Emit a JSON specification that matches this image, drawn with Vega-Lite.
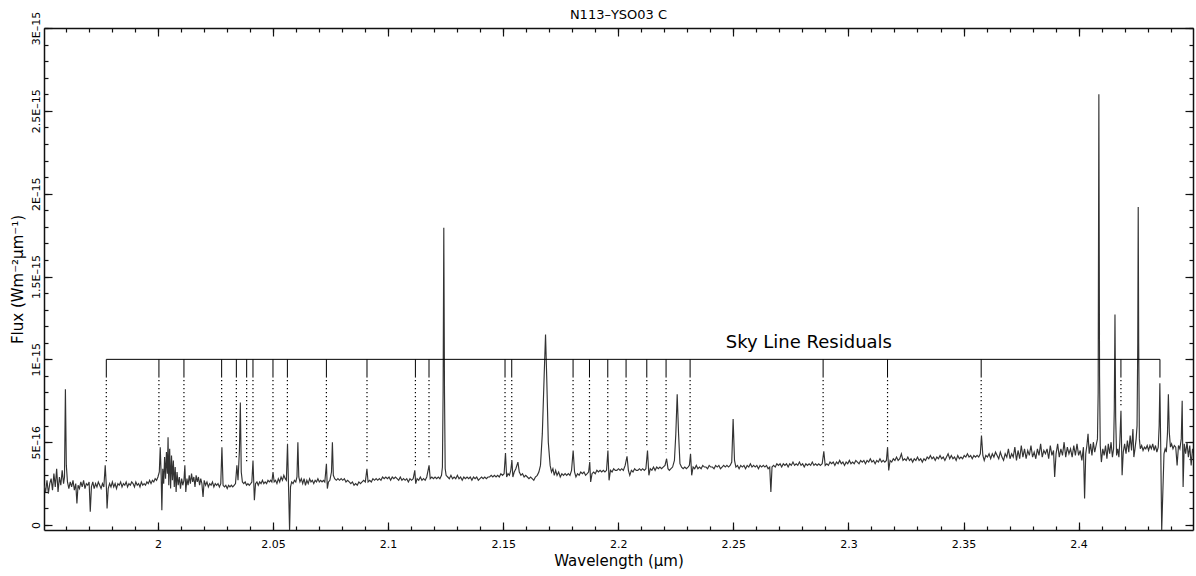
{
"$schema": "https://vega.github.io/schema/vega-lite/v6.json",
"width": 1149,
"height": 502,
"autosize": "none",
"padding": {"left": 44, "top": 28, "right": 3, "bottom": 46},
"config": {
  "view": {"stroke": null},
  "font": "DejaVu Sans",
  "axis": {"grid": false, "domainColor": "#111", "tickColor": "#111", "labelColor": "#000", "titleColor": "#000", "labelFont": "DejaVu Sans", "titleFont": "DejaVu Sans", "labelFlush": false, "labelOverlap": false, "labelBound": false, "titleFontWeight": "normal", "domainWidth": 1.5, "tickWidth": 1.2}
},
"title": {"text": "N113–YSO03 C", "fontSize": 13, "fontWeight": "normal", "frame": "group", "anchor": "middle", "baseline": "alphabetic", "offset": -21, "color": "#000", "font": "DejaVu Sans"},
"datasets": {
  "spec": [
{"w":1.9505,"f":2.4e-16},{"w":1.9512,"f":2.0e-16},{"w":1.9518,"f":2.7e-16},{"w":1.9524,"f":1.9e-16},{"w":1.9530,"f":2.5e-16},{"w":1.9536,"f":2.8e-16},{"w":1.9542,"f":2.1e-16},{"w":1.9548,"f":3.1e-16},{"w":1.9554,"f":2.3e-16},{"w":1.9560,"f":3.4e-16},{"w":1.9566,"f":2.0e-16},{"w":1.9572,"f":2.9e-16},{"w":1.9578,"f":2.4e-16},{"w":1.9584,"f":3.3e-16},{"w":1.9590,"f":2.5e-16},{"w":1.9594,"f":2.9e-16},{"w":1.9598,"f":8.2e-16},{"w":1.9602,"f":3.6e-16},{"w":1.9607,"f":2.6e-16},{"w":1.9613,"f":2.2e-16},{"w":1.9619,"f":2.6e-16},{"w":1.9625,"f":2.3e-16},{"w":1.9631,"f":2.7e-16},{"w":1.9637,"f":2.1e-16},{"w":1.9643,"f":2.5e-16},{"w":1.9648,"f":1.3e-16},{"w":1.9653,"f":2.4e-16},{"w":1.9659,"f":2.2e-16},{"w":1.9665,"f":2.6e-16},{"w":1.9671,"f":2.3e-16},{"w":1.9677,"f":2.7e-16},{"w":1.9683,"f":2.2e-16},{"w":1.9689,"f":2.5e-16},{"w":1.9695,"f":2.4e-16},{"w":1.9701,"f":2.6e-16},{"w":1.9706,"f":0.8e-16},{"w":1.9711,"f":2.3e-16},{"w":1.9717,"f":2.6e-16},{"w":1.9723,"f":2.2e-16},{"w":1.9729,"f":2.5e-16},{"w":1.9735,"f":2.3e-16},{"w":1.9741,"f":2.6e-16},{"w":1.9747,"f":2.4e-16},{"w":1.9753,"f":2.2e-16},{"w":1.9759,"f":2.5e-16},{"w":1.9765,"f":2.3e-16},{"w":1.9771,"f":3.6e-16},{"w":1.9776,"f":2.3e-16},{"w":1.9779,"f":1.0e-16},{"w":1.9784,"f":2.2e-16},{"w":1.9790,"f":2.5e-16},{"w":1.9796,"f":2.3e-16},{"w":1.9802,"f":2.6e-16},{"w":1.9808,"f":2.3e-16},{"w":1.9814,"f":2.5e-16},{"w":1.9820,"f":2.2e-16},{"w":1.9826,"f":2.5e-16},{"w":1.9832,"f":2.4e-16},{"w":1.9838,"f":2.6e-16},{"w":1.9844,"f":2.3e-16},{"w":1.9850,"f":2.5e-16},{"w":1.9856,"f":2.4e-16},{"w":1.9862,"f":2.6e-16},{"w":1.9868,"f":2.3e-16},{"w":1.9874,"f":2.5e-16},{"w":1.9880,"f":2.4e-16},{"w":1.9886,"f":2.6e-16},{"w":1.9892,"f":2.5e-16},{"w":1.9898,"f":2.3e-16},{"w":1.9904,"f":2.6e-16},{"w":1.9910,"f":2.4e-16},{"w":1.9916,"f":2.5e-16},{"w":1.9922,"f":2.3e-16},{"w":1.9928,"f":2.6e-16},{"w":1.9934,"f":2.4e-16},{"w":1.9940,"f":2.5e-16},{"w":1.9946,"f":2.4e-16},{"w":1.9952,"f":2.6e-16},{"w":1.9958,"f":2.5e-16},{"w":1.9964,"f":2.7e-16},{"w":1.9970,"f":2.5e-16},{"w":1.9976,"f":2.7e-16},{"w":1.9982,"f":2.6e-16},{"w":1.9988,"f":2.8e-16},{"w":1.9994,"f":2.7e-16},{"w":2.0000,"f":2.9e-16},{"w":2.0006,"f":3.2e-16},{"w":2.0010,"f":4.7e-16},{"w":2.0014,"f":3.0e-16},{"w":2.0017,"f":0.9e-16},{"w":2.0021,"f":3.4e-16},{"w":2.0025,"f":2.5e-16},{"w":2.0029,"f":4.1e-16},{"w":2.0033,"f":2.8e-16},{"w":2.0037,"f":4.4e-16},{"w":2.0041,"f":3.1e-16},{"w":2.0044,"f":5.3e-16},{"w":2.0047,"f":2.4e-16},{"w":2.0051,"f":4.6e-16},{"w":2.0055,"f":2.2e-16},{"w":2.0059,"f":4.2e-16},{"w":2.0063,"f":2.7e-16},{"w":2.0067,"f":3.9e-16},{"w":2.0071,"f":2.3e-16},{"w":2.0075,"f":3.5e-16},{"w":2.0079,"f":2.0e-16},{"w":2.0083,"f":3.2e-16},{"w":2.0088,"f":2.4e-16},{"w":2.0093,"f":2.9e-16},{"w":2.0098,"f":2.2e-16},{"w":2.0103,"f":2.8e-16},{"w":2.0108,"f":2.4e-16},{"w":2.0113,"f":2.7e-16},{"w":2.0117,"f":3.6e-16},{"w":2.0121,"f":2.0e-16},{"w":2.0126,"f":2.8e-16},{"w":2.0131,"f":2.4e-16},{"w":2.0136,"f":3.0e-16},{"w":2.0141,"f":2.5e-16},{"w":2.0146,"f":3.1e-16},{"w":2.0151,"f":2.6e-16},{"w":2.0156,"f":2.9e-16},{"w":2.0161,"f":2.3e-16},{"w":2.0166,"f":3.0e-16},{"w":2.0171,"f":2.6e-16},{"w":2.0176,"f":2.9e-16},{"w":2.0181,"f":2.4e-16},{"w":2.0186,"f":2.8e-16},{"w":2.0191,"f":2.5e-16},{"w":2.0196,"f":1.7e-16},{"w":2.0201,"f":2.7e-16},{"w":2.0207,"f":2.4e-16},{"w":2.0213,"f":2.6e-16},{"w":2.0219,"f":2.3e-16},{"w":2.0225,"f":2.5e-16},{"w":2.0231,"f":2.4e-16},{"w":2.0237,"f":2.6e-16},{"w":2.0243,"f":2.3e-16},{"w":2.0249,"f":2.5e-16},{"w":2.0255,"f":2.4e-16},{"w":2.0261,"f":2.5e-16},{"w":2.0267,"f":2.3e-16},{"w":2.0273,"f":2.5e-16},{"w":2.0278,"f":4.7e-16},{"w":2.0283,"f":2.4e-16},{"w":2.0289,"f":2.3e-16},{"w":2.0295,"f":2.4e-16},{"w":2.0301,"f":2.2e-16},{"w":2.0307,"f":2.4e-16},{"w":2.0313,"f":2.3e-16},{"w":2.0319,"f":2.4e-16},{"w":2.0325,"f":2.3e-16},{"w":2.0331,"f":2.4e-16},{"w":2.0337,"f":2.5e-16},{"w":2.0343,"f":3.6e-16},{"w":2.0348,"f":2.7e-16},{"w":2.0354,"f":4.5e-16},{"w":2.0358,"f":7.4e-16},{"w":2.0362,"f":3.2e-16},{"w":2.0367,"f":2.6e-16},{"w":2.0373,"f":2.5e-16},{"w":2.0379,"f":2.6e-16},{"w":2.0385,"f":2.4e-16},{"w":2.0391,"f":2.5e-16},{"w":2.0397,"f":2.4e-16},{"w":2.0403,"f":2.5e-16},{"w":2.0408,"f":2.6e-16},{"w":2.0413,"f":3.9e-16},{"w":2.0419,"f":1.5e-16},{"w":2.0424,"f":2.5e-16},{"w":2.0430,"f":2.6e-16},{"w":2.0436,"f":2.4e-16},{"w":2.0442,"f":2.6e-16},{"w":2.0448,"f":2.5e-16},{"w":2.0454,"f":2.7e-16},{"w":2.0460,"f":2.5e-16},{"w":2.0466,"f":2.6e-16},{"w":2.0472,"f":2.5e-16},{"w":2.0478,"f":2.7e-16},{"w":2.0484,"f":2.6e-16},{"w":2.0490,"f":2.7e-16},{"w":2.0495,"f":2.6e-16},{"w":2.0500,"f":3.2e-16},{"w":2.0505,"f":2.6e-16},{"w":2.0511,"f":2.7e-16},{"w":2.0517,"f":2.5e-16},{"w":2.0523,"f":2.8e-16},{"w":2.0529,"f":2.6e-16},{"w":2.0535,"f":2.9e-16},{"w":2.0541,"f":2.7e-16},{"w":2.0547,"f":3.0e-16},{"w":2.0553,"f":2.8e-16},{"w":2.0558,"f":2.7e-16},{"w":2.0563,"f":4.9e-16},{"w":2.0568,"f":2.0e-16},{"w":2.0572,"f":-3.5e-17},{"w":2.0576,"f":2.3e-16},{"w":2.0581,"f":2.6e-16},{"w":2.0587,"f":2.5e-16},{"w":2.0593,"f":2.7e-16},{"w":2.0599,"f":2.6e-16},{"w":2.0604,"f":2.9e-16},{"w":2.0608,"f":5.0e-16},{"w":2.0612,"f":2.9e-16},{"w":2.0617,"f":2.6e-16},{"w":2.0623,"f":2.8e-16},{"w":2.0629,"f":2.5e-16},{"w":2.0635,"f":2.8e-16},{"w":2.0641,"f":2.4e-16},{"w":2.0647,"f":2.7e-16},{"w":2.0653,"f":2.5e-16},{"w":2.0659,"f":2.8e-16},{"w":2.0665,"f":2.6e-16},{"w":2.0671,"f":2.7e-16},{"w":2.0677,"f":2.5e-16},{"w":2.0683,"f":2.7e-16},{"w":2.0689,"f":2.6e-16},{"w":2.0695,"f":2.8e-16},{"w":2.0701,"f":2.6e-16},{"w":2.0707,"f":2.7e-16},{"w":2.0713,"f":2.6e-16},{"w":2.0719,"f":2.7e-16},{"w":2.0725,"f":2.6e-16},{"w":2.0732,"f":3.7e-16},{"w":2.0736,"f":2.2e-16},{"w":2.0741,"f":2.6e-16},{"w":2.0747,"f":2.7e-16},{"w":2.0754,"f":3.2e-16},{"w":2.0758,"f":5.0e-16},{"w":2.0762,"f":3.0e-16},{"w":2.0768,"f":2.8e-16},{"w":2.0775,"f":2.7e-16},{"w":2.0782,"f":2.8e-16},{"w":2.0789,"f":2.7e-16},{"w":2.0796,"f":2.8e-16},{"w":2.0803,"f":2.7e-16},{"w":2.0810,"f":2.8e-16},{"w":2.0817,"f":2.6e-16},{"w":2.0824,"f":2.7e-16},{"w":2.0831,"f":2.6e-16},{"w":2.0838,"f":2.5e-16},{"w":2.0845,"f":2.6e-16},{"w":2.0852,"f":2.4e-16},{"w":2.0859,"f":2.5e-16},{"w":2.0866,"f":2.4e-16},{"w":2.0873,"f":2.6e-16},{"w":2.0880,"f":2.5e-16},{"w":2.0887,"f":2.6e-16},{"w":2.0894,"f":2.7e-16},{"w":2.0901,"f":2.6e-16},{"w":2.0908,"f":3.4e-16},{"w":2.0913,"f":2.6e-16},{"w":2.0920,"f":2.7e-16},{"w":2.0927,"f":2.6e-16},{"w":2.0934,"f":2.8e-16},{"w":2.0941,"f":2.7e-16},{"w":2.0948,"f":2.8e-16},{"w":2.0955,"f":2.7e-16},{"w":2.0962,"f":2.8e-16},{"w":2.0969,"f":2.7e-16},{"w":2.0976,"f":2.9e-16},{"w":2.0983,"f":2.8e-16},{"w":2.0990,"f":2.9e-16},{"w":2.0997,"f":2.8e-16},{"w":2.1004,"f":2.9e-16},{"w":2.1011,"f":2.7e-16},{"w":2.1018,"f":2.9e-16},{"w":2.1025,"f":2.8e-16},{"w":2.1032,"f":2.9e-16},{"w":2.1039,"f":2.8e-16},{"w":2.1046,"f":2.7e-16},{"w":2.1053,"f":2.9e-16},{"w":2.1060,"f":2.7e-16},{"w":2.1067,"f":2.8e-16},{"w":2.1074,"f":2.7e-16},{"w":2.1081,"f":2.8e-16},{"w":2.1088,"f":2.6e-16},{"w":2.1095,"f":2.8e-16},{"w":2.1102,"f":2.7e-16},{"w":2.1109,"f":2.8e-16},{"w":2.1116,"f":3.3e-16},{"w":2.1120,"f":2.5e-16},{"w":2.1126,"f":2.8e-16},{"w":2.1133,"f":2.7e-16},{"w":2.1140,"f":2.9e-16},{"w":2.1147,"f":2.7e-16},{"w":2.1154,"f":2.8e-16},{"w":2.1161,"f":2.7e-16},{"w":2.1168,"f":2.9e-16},{"w":2.1178,"f":3.6e-16},{"w":2.1183,"f":2.8e-16},{"w":2.1190,"f":2.9e-16},{"w":2.1197,"f":2.8e-16},{"w":2.1204,"f":2.9e-16},{"w":2.1211,"f":2.8e-16},{"w":2.1218,"f":2.9e-16},{"w":2.1225,"f":2.8e-16},{"w":2.1232,"f":3.0e-16},{"w":2.1236,"f":3.5e-16},{"w":2.1239,"f":8.0e-16},{"w":2.1242,"f":1.795e-15},{"w":2.1245,"f":8.0e-16},{"w":2.1248,"f":3.4e-16},{"w":2.1252,"f":3.0e-16},{"w":2.1259,"f":2.9e-16},{"w":2.1266,"f":2.8e-16},{"w":2.1273,"f":3.0e-16},{"w":2.1280,"f":2.8e-16},{"w":2.1287,"f":2.9e-16},{"w":2.1294,"f":2.8e-16},{"w":2.1301,"f":3.0e-16},{"w":2.1308,"f":2.8e-16},{"w":2.1315,"f":2.9e-16},{"w":2.1322,"f":2.7e-16},{"w":2.1329,"f":2.9e-16},{"w":2.1336,"f":2.8e-16},{"w":2.1343,"f":2.9e-16},{"w":2.1350,"f":2.8e-16},{"w":2.1357,"f":2.9e-16},{"w":2.1364,"f":2.7e-16},{"w":2.1371,"f":2.9e-16},{"w":2.1378,"f":2.8e-16},{"w":2.1385,"f":2.9e-16},{"w":2.1392,"f":2.7e-16},{"w":2.1399,"f":2.8e-16},{"w":2.1406,"f":2.9e-16},{"w":2.1413,"f":2.8e-16},{"w":2.1420,"f":2.9e-16},{"w":2.1427,"f":2.8e-16},{"w":2.1434,"f":2.9e-16},{"w":2.1441,"f":2.9e-16},{"w":2.1448,"f":3.0e-16},{"w":2.1455,"f":2.9e-16},{"w":2.1462,"f":3.0e-16},{"w":2.1469,"f":2.9e-16},{"w":2.1476,"f":3.0e-16},{"w":2.1483,"f":2.9e-16},{"w":2.1490,"f":3.1e-16},{"w":2.1497,"f":3.0e-16},{"w":2.1504,"f":3.1e-16},{"w":2.1510,"f":4.35e-16},{"w":2.1515,"f":2.9e-16},{"w":2.1521,"f":3.1e-16},{"w":2.1527,"f":3.0e-16},{"w":2.1533,"f":3.3e-16},{"w":2.1538,"f":3.9e-16},{"w":2.1542,"f":2.9e-16},{"w":2.1548,"f":3.2e-16},{"w":2.1555,"f":3.4e-16},{"w":2.1564,"f":3.8e-16},{"w":2.1570,"f":3.2e-16},{"w":2.1577,"f":3.0e-16},{"w":2.1584,"f":3.1e-16},{"w":2.1591,"f":2.9e-16},{"w":2.1598,"f":3.0e-16},{"w":2.1605,"f":2.9e-16},{"w":2.1612,"f":2.8e-16},{"w":2.1619,"f":2.9e-16},{"w":2.1626,"f":2.8e-16},{"w":2.1633,"f":2.7e-16},{"w":2.1640,"f":2.9e-16},{"w":2.1648,"f":3.0e-16},{"w":2.1655,"f":3.2e-16},{"w":2.1662,"f":3.6e-16},{"w":2.1670,"f":5.5e-16},{"w":2.1678,"f":9.0e-16},{"w":2.1684,"f":1.15e-15},{"w":2.1689,"f":9.0e-16},{"w":2.1696,"f":5.0e-16},{"w":2.1704,"f":3.6e-16},{"w":2.1710,"f":3.2e-16},{"w":2.1716,"f":3.4e-16},{"w":2.1722,"f":3.0e-16},{"w":2.1728,"f":3.3e-16},{"w":2.1734,"f":3.0e-16},{"w":2.1741,"f":3.2e-16},{"w":2.1748,"f":2.9e-16},{"w":2.1755,"f":3.1e-16},{"w":2.1762,"f":3.0e-16},{"w":2.1769,"f":3.1e-16},{"w":2.1776,"f":3.0e-16},{"w":2.1783,"f":3.1e-16},{"w":2.1790,"f":3.0e-16},{"w":2.1797,"f":3.3e-16},{"w":2.1804,"f":4.5e-16},{"w":2.1810,"f":3.2e-16},{"w":2.1816,"f":2.9e-16},{"w":2.1823,"f":3.1e-16},{"w":2.1830,"f":3.0e-16},{"w":2.1837,"f":3.2e-16},{"w":2.1844,"f":3.1e-16},{"w":2.1851,"f":3.2e-16},{"w":2.1858,"f":3.0e-16},{"w":2.1865,"f":3.1e-16},{"w":2.1871,"f":3.2e-16},{"w":2.1876,"f":3.8e-16},{"w":2.1880,"f":2.6e-16},{"w":2.1886,"f":3.1e-16},{"w":2.1893,"f":3.2e-16},{"w":2.1900,"f":3.1e-16},{"w":2.1907,"f":3.3e-16},{"w":2.1914,"f":3.2e-16},{"w":2.1921,"f":3.3e-16},{"w":2.1928,"f":3.2e-16},{"w":2.1935,"f":3.3e-16},{"w":2.1942,"f":3.2e-16},{"w":2.1949,"f":3.3e-16},{"w":2.1955,"f":4.5e-16},{"w":2.1960,"f":2.7e-16},{"w":2.1966,"f":3.3e-16},{"w":2.1973,"f":3.2e-16},{"w":2.1980,"f":3.4e-16},{"w":2.1987,"f":3.3e-16},{"w":2.1994,"f":3.3e-16},{"w":2.2001,"f":3.4e-16},{"w":2.2008,"f":3.3e-16},{"w":2.2015,"f":3.4e-16},{"w":2.2022,"f":3.3e-16},{"w":2.2030,"f":3.6e-16},{"w":2.2038,"f":4.15e-16},{"w":2.2044,"f":3.3e-16},{"w":2.2050,"f":3.0e-16},{"w":2.2057,"f":3.3e-16},{"w":2.2064,"f":3.2e-16},{"w":2.2071,"f":3.4e-16},{"w":2.2078,"f":3.3e-16},{"w":2.2085,"f":3.3e-16},{"w":2.2092,"f":3.4e-16},{"w":2.2099,"f":3.3e-16},{"w":2.2106,"f":3.4e-16},{"w":2.2113,"f":3.3e-16},{"w":2.2120,"f":3.4e-16},{"w":2.2127,"f":4.5e-16},{"w":2.2133,"f":3.0e-16},{"w":2.2139,"f":3.4e-16},{"w":2.2146,"f":3.3e-16},{"w":2.2153,"f":3.5e-16},{"w":2.2160,"f":3.3e-16},{"w":2.2167,"f":3.5e-16},{"w":2.2174,"f":3.4e-16},{"w":2.2181,"f":3.5e-16},{"w":2.2188,"f":3.4e-16},{"w":2.2195,"f":3.5e-16},{"w":2.2203,"f":3.6e-16},{"w":2.2210,"f":4.0e-16},{"w":2.2216,"f":3.4e-16},{"w":2.2222,"f":3.3e-16},{"w":2.2229,"f":3.4e-16},{"w":2.2236,"f":3.5e-16},{"w":2.2244,"f":3.9e-16},{"w":2.2250,"f":5.5e-16},{"w":2.2256,"f":7.9e-16},{"w":2.2262,"f":5.5e-16},{"w":2.2268,"f":3.7e-16},{"w":2.2275,"f":3.5e-16},{"w":2.2282,"f":3.4e-16},{"w":2.2289,"f":3.5e-16},{"w":2.2296,"f":3.4e-16},{"w":2.2303,"f":3.5e-16},{"w":2.2309,"f":3.6e-16},{"w":2.2314,"f":4.3e-16},{"w":2.2319,"f":3.0e-16},{"w":2.2325,"f":3.5e-16},{"w":2.2332,"f":3.4e-16},{"w":2.2339,"f":3.6e-16},{"w":2.2346,"f":3.4e-16},{"w":2.2353,"f":3.5e-16},{"w":2.2360,"f":3.4e-16},{"w":2.2367,"f":3.6e-16},{"w":2.2374,"f":3.5e-16},{"w":2.2381,"f":3.5e-16},{"w":2.2388,"f":3.4e-16},{"w":2.2395,"f":3.6e-16},{"w":2.2402,"f":3.5e-16},{"w":2.2409,"f":3.5e-16},{"w":2.2416,"f":3.4e-16},{"w":2.2423,"f":3.6e-16},{"w":2.2430,"f":3.5e-16},{"w":2.2437,"f":3.6e-16},{"w":2.2444,"f":3.4e-16},{"w":2.2451,"f":3.5e-16},{"w":2.2458,"f":3.6e-16},{"w":2.2465,"f":3.5e-16},{"w":2.2472,"f":3.6e-16},{"w":2.2479,"f":3.5e-16},{"w":2.2486,"f":3.6e-16},{"w":2.2493,"f":3.8e-16},{"w":2.2499,"f":6.4e-16},{"w":2.2505,"f":3.9e-16},{"w":2.2511,"f":3.5e-16},{"w":2.2518,"f":3.6e-16},{"w":2.2525,"f":3.4e-16},{"w":2.2532,"f":3.6e-16},{"w":2.2539,"f":3.5e-16},{"w":2.2546,"f":3.6e-16},{"w":2.2553,"f":3.4e-16},{"w":2.2560,"f":3.6e-16},{"w":2.2567,"f":3.5e-16},{"w":2.2574,"f":3.7e-16},{"w":2.2581,"f":3.5e-16},{"w":2.2588,"f":3.6e-16},{"w":2.2595,"f":3.5e-16},{"w":2.2602,"f":3.6e-16},{"w":2.2609,"f":3.4e-16},{"w":2.2616,"f":3.6e-16},{"w":2.2623,"f":3.5e-16},{"w":2.2630,"f":3.6e-16},{"w":2.2637,"f":3.5e-16},{"w":2.2644,"f":3.6e-16},{"w":2.2651,"f":3.4e-16},{"w":2.2658,"f":3.5e-16},{"w":2.2663,"f":2.0e-16},{"w":2.2668,"f":3.5e-16},{"w":2.2675,"f":3.6e-16},{"w":2.2682,"f":3.5e-16},{"w":2.2689,"f":3.7e-16},{"w":2.2696,"f":3.6e-16},{"w":2.2703,"f":3.7e-16},{"w":2.2710,"f":3.5e-16},{"w":2.2717,"f":3.7e-16},{"w":2.2724,"f":3.6e-16},{"w":2.2731,"f":3.7e-16},{"w":2.2738,"f":3.5e-16},{"w":2.2745,"f":3.7e-16},{"w":2.2752,"f":3.6e-16},{"w":2.2759,"f":3.8e-16},{"w":2.2766,"f":3.6e-16},{"w":2.2773,"f":3.7e-16},{"w":2.2780,"f":3.6e-16},{"w":2.2787,"f":3.8e-16},{"w":2.2794,"f":3.6e-16},{"w":2.2801,"f":3.7e-16},{"w":2.2808,"f":3.5e-16},{"w":2.2815,"f":3.7e-16},{"w":2.2822,"f":3.6e-16},{"w":2.2829,"f":3.7e-16},{"w":2.2836,"f":3.6e-16},{"w":2.2843,"f":3.8e-16},{"w":2.2850,"f":3.6e-16},{"w":2.2857,"f":3.7e-16},{"w":2.2864,"f":3.6e-16},{"w":2.2871,"f":3.7e-16},{"w":2.2878,"f":3.6e-16},{"w":2.2886,"f":3.7e-16},{"w":2.2893,"f":4.45e-16},{"w":2.2899,"f":3.6e-16},{"w":2.2906,"f":3.7e-16},{"w":2.2913,"f":3.6e-16},{"w":2.2920,"f":3.8e-16},{"w":2.2927,"f":3.7e-16},{"w":2.2934,"f":3.8e-16},{"w":2.2941,"f":3.6e-16},{"w":2.2948,"f":3.8e-16},{"w":2.2955,"f":3.7e-16},{"w":2.2962,"f":3.9e-16},{"w":2.2969,"f":3.7e-16},{"w":2.2976,"f":3.8e-16},{"w":2.2983,"f":3.6e-16},{"w":2.2990,"f":3.8e-16},{"w":2.2997,"f":3.7e-16},{"w":2.3004,"f":3.9e-16},{"w":2.3011,"f":3.7e-16},{"w":2.3018,"f":3.8e-16},{"w":2.3025,"f":3.7e-16},{"w":2.3032,"f":3.9e-16},{"w":2.3039,"f":3.8e-16},{"w":2.3046,"f":3.7e-16},{"w":2.3053,"f":3.9e-16},{"w":2.3060,"f":3.8e-16},{"w":2.3067,"f":3.9e-16},{"w":2.3074,"f":3.7e-16},{"w":2.3081,"f":3.9e-16},{"w":2.3088,"f":3.8e-16},{"w":2.3095,"f":4.0e-16},{"w":2.3102,"f":3.8e-16},{"w":2.3109,"f":3.9e-16},{"w":2.3116,"f":3.7e-16},{"w":2.3123,"f":3.9e-16},{"w":2.3130,"f":3.8e-16},{"w":2.3137,"f":4.0e-16},{"w":2.3144,"f":3.8e-16},{"w":2.3151,"f":3.9e-16},{"w":2.3158,"f":3.8e-16},{"w":2.3165,"f":3.9e-16},{"w":2.3170,"f":4.7e-16},{"w":2.3175,"f":3.3e-16},{"w":2.3181,"f":3.9e-16},{"w":2.3188,"f":3.8e-16},{"w":2.3195,"f":4.0e-16},{"w":2.3202,"f":3.9e-16},{"w":2.3209,"f":4.1e-16},{"w":2.3216,"f":3.9e-16},{"w":2.3223,"f":4.0e-16},{"w":2.3230,"f":4.3e-16},{"w":2.3237,"f":3.9e-16},{"w":2.3244,"f":4.0e-16},{"w":2.3251,"f":3.9e-16},{"w":2.3258,"f":4.1e-16},{"w":2.3265,"f":3.9e-16},{"w":2.3272,"f":4.0e-16},{"w":2.3279,"f":3.8e-16},{"w":2.3286,"f":4.0e-16},{"w":2.3293,"f":3.9e-16},{"w":2.3300,"f":4.1e-16},{"w":2.3307,"f":3.9e-16},{"w":2.3314,"f":4.0e-16},{"w":2.3321,"f":3.8e-16},{"w":2.3328,"f":4.0e-16},{"w":2.3335,"f":3.9e-16},{"w":2.3342,"f":4.1e-16},{"w":2.3349,"f":4.0e-16},{"w":2.3356,"f":4.2e-16},{"w":2.3363,"f":4.0e-16},{"w":2.3370,"f":4.1e-16},{"w":2.3377,"f":3.9e-16},{"w":2.3384,"f":4.1e-16},{"w":2.3391,"f":4.0e-16},{"w":2.3398,"f":4.2e-16},{"w":2.3405,"f":4.0e-16},{"w":2.3412,"f":4.1e-16},{"w":2.3419,"f":3.9e-16},{"w":2.3426,"f":4.1e-16},{"w":2.3433,"f":4.3e-16},{"w":2.3440,"f":4.0e-16},{"w":2.3447,"f":4.2e-16},{"w":2.3454,"f":4.0e-16},{"w":2.3461,"f":4.1e-16},{"w":2.3468,"f":3.9e-16},{"w":2.3475,"f":4.2e-16},{"w":2.3482,"f":4.0e-16},{"w":2.3489,"f":4.1e-16},{"w":2.3496,"f":4.0e-16},{"w":2.3503,"f":4.2e-16},{"w":2.3510,"f":4.1e-16},{"w":2.3517,"f":4.3e-16},{"w":2.3524,"f":4.1e-16},{"w":2.3531,"f":4.2e-16},{"w":2.3538,"f":4.0e-16},{"w":2.3545,"f":4.2e-16},{"w":2.3552,"f":4.1e-16},{"w":2.3559,"f":4.2e-16},{"w":2.3566,"f":4.1e-16},{"w":2.3573,"f":4.3e-16},{"w":2.3578,"f":5.4e-16},{"w":2.3584,"f":4.2e-16},{"w":2.3590,"f":3.9e-16},{"w":2.3597,"f":4.2e-16},{"w":2.3604,"f":4.1e-16},{"w":2.3611,"f":4.3e-16},{"w":2.3618,"f":4.0e-16},{"w":2.3625,"f":4.3e-16},{"w":2.3632,"f":4.1e-16},{"w":2.3639,"f":4.4e-16},{"w":2.3646,"f":4.2e-16},{"w":2.3653,"f":4.0e-16},{"w":2.3660,"f":4.4e-16},{"w":2.3667,"f":4.1e-16},{"w":2.3674,"f":3.9e-16},{"w":2.3681,"f":4.3e-16},{"w":2.3688,"f":4.1e-16},{"w":2.3695,"f":4.6e-16},{"w":2.3702,"f":4.0e-16},{"w":2.3709,"f":4.3e-16},{"w":2.3716,"f":4.1e-16},{"w":2.3723,"f":4.7e-16},{"w":2.3730,"f":3.9e-16},{"w":2.3737,"f":4.5e-16},{"w":2.3744,"f":4.0e-16},{"w":2.3751,"f":4.8e-16},{"w":2.3758,"f":4.1e-16},{"w":2.3765,"f":4.6e-16},{"w":2.3772,"f":4.0e-16},{"w":2.3779,"f":4.5e-16},{"w":2.3786,"f":4.2e-16},{"w":2.3793,"f":4.8e-16},{"w":2.3800,"f":4.1e-16},{"w":2.3807,"f":4.4e-16},{"w":2.3814,"f":4.0e-16},{"w":2.3821,"f":4.6e-16},{"w":2.3828,"f":4.2e-16},{"w":2.3835,"f":4.9e-16},{"w":2.3842,"f":4.1e-16},{"w":2.3849,"f":4.5e-16},{"w":2.3856,"f":4.3e-16},{"w":2.3863,"f":4.6e-16},{"w":2.3870,"f":4.0e-16},{"w":2.3877,"f":4.8e-16},{"w":2.3884,"f":4.2e-16},{"w":2.3891,"f":4.5e-16},{"w":2.3896,"f":2.9e-16},{"w":2.3902,"f":4.3e-16},{"w":2.3909,"f":4.9e-16},{"w":2.3916,"f":4.1e-16},{"w":2.3923,"f":4.6e-16},{"w":2.3930,"f":4.2e-16},{"w":2.3937,"f":5.0e-16},{"w":2.3944,"f":4.1e-16},{"w":2.3951,"f":4.7e-16},{"w":2.3958,"f":4.3e-16},{"w":2.3965,"f":4.6e-16},{"w":2.3972,"f":4.1e-16},{"w":2.3979,"f":4.8e-16},{"w":2.3986,"f":4.2e-16},{"w":2.3993,"f":4.9e-16},{"w":2.4000,"f":4.2e-16},{"w":2.4007,"f":4.5e-16},{"w":2.4014,"f":3.9e-16},{"w":2.4021,"f":4.7e-16},{"w":2.4026,"f":1.6e-16},{"w":2.4031,"f":4.3e-16},{"w":2.4036,"f":4.8e-16},{"w":2.4041,"f":5.5e-16},{"w":2.4046,"f":4.3e-16},{"w":2.4052,"f":4.9e-16},{"w":2.4058,"f":4.2e-16},{"w":2.4064,"f":5.0e-16},{"w":2.4070,"f":4.4e-16},{"w":2.4076,"f":4.8e-16},{"w":2.4082,"f":5.2e-16},{"w":2.4085,"f":8.0e-16},{"w":2.4088,"f":2.6e-15},{"w":2.4091,"f":9.0e-16},{"w":2.4094,"f":4.8e-16},{"w":2.4099,"f":3.8e-16},{"w":2.4105,"f":4.6e-16},{"w":2.4111,"f":4.2e-16},{"w":2.4117,"f":4.8e-16},{"w":2.4123,"f":4.0e-16},{"w":2.4129,"f":4.9e-16},{"w":2.4135,"f":4.3e-16},{"w":2.4141,"f":5.0e-16},{"w":2.4147,"f":4.1e-16},{"w":2.4152,"f":4.6e-16},{"w":2.4155,"f":7.0e-16},{"w":2.4158,"f":1.27e-15},{"w":2.4161,"f":6.5e-16},{"w":2.4165,"f":4.2e-16},{"w":2.4170,"f":4.6e-16},{"w":2.4175,"f":4.1e-16},{"w":2.4179,"f":5.0e-16},{"w":2.4184,"f":6.9e-16},{"w":2.4189,"f":3.0e-16},{"w":2.4194,"f":4.4e-16},{"w":2.4200,"f":4.9e-16},{"w":2.4206,"f":4.3e-16},{"w":2.4212,"f":5.1e-16},{"w":2.4218,"f":4.4e-16},{"w":2.4224,"f":5.4e-16},{"w":2.4230,"f":4.5e-16},{"w":2.4236,"f":5.8e-16},{"w":2.4240,"f":4.1e-16},{"w":2.4245,"f":4.6e-16},{"w":2.4250,"f":5.2e-16},{"w":2.4254,"f":6.0e-16},{"w":2.4257,"f":1.1e-15},{"w":2.4259,"f":1.92e-15},{"w":2.4261,"f":1.1e-15},{"w":2.4264,"f":5.2e-16},{"w":2.4268,"f":4.6e-16},{"w":2.4274,"f":4.8e-16},{"w":2.4280,"f":4.5e-16},{"w":2.4286,"f":4.7e-16},{"w":2.4292,"f":4.6e-16},{"w":2.4298,"f":4.8e-16},{"w":2.4304,"f":4.5e-16},{"w":2.4310,"f":4.8e-16},{"w":2.4316,"f":4.6e-16},{"w":2.4322,"f":4.9e-16},{"w":2.4328,"f":4.5e-16},{"w":2.4334,"f":4.8e-16},{"w":2.4340,"f":4.4e-16},{"w":2.4346,"f":4.7e-16},{"w":2.4350,"f":6.0e-16},{"w":2.4353,"f":8.55e-16},{"w":2.4357,"f":4.5e-16},{"w":2.4361,"f":-3.5e-17},{"w":2.4366,"f":2.0e-16},{"w":2.4371,"f":4.3e-16},{"w":2.4376,"f":4.6e-16},{"w":2.4381,"f":4.4e-16},{"w":2.4386,"f":5.5e-16},{"w":2.4390,"f":7.9e-16},{"w":2.4394,"f":5.6e-16},{"w":2.4399,"f":4.7e-16},{"w":2.4404,"f":4.9e-16},{"w":2.4410,"f":4.6e-16},{"w":2.4416,"f":4.8e-16},{"w":2.4422,"f":4.7e-16},{"w":2.4428,"f":3.6e-16},{"w":2.4434,"f":4.8e-16},{"w":2.4440,"f":4.6e-16},{"w":2.4446,"f":5.2e-16},{"w":2.4450,"f":7.5e-16},{"w":2.4454,"f":2.3e-16},{"w":2.4459,"f":4.9e-16},{"w":2.4465,"f":4.3e-16},{"w":2.4471,"f":5.0e-16},{"w":2.4477,"f":4.1e-16},{"w":2.4483,"f":4.8e-16},{"w":2.4489,"f":3.6e-16},{"w":2.4495,"f":4.6e-16},{"w":2.4500,"f":4.3e-16}
  ],
  "sky": [
{"w":1.97757,"top":1e-15,"mid":8.9e-16,"start":8.75e-16,"end":3.7e-16},{"w":2.00043,"top":1e-15,"mid":8.9e-16,"start":8.75e-16,"end":4.8e-16},{"w":2.0113,"top":1e-15,"mid":8.9e-16,"start":8.75e-16,"end":3.8e-16},{"w":2.02768,"top":1e-15,"mid":8.9e-16,"start":8.75e-16,"end":5.0e-16},{"w":2.03407,"top":1e-15,"mid":8.9e-16,"start":8.75e-16,"end":4.0e-16},{"w":2.03855,"top":1e-15,"mid":8.9e-16,"start":8.75e-16,"end":3.7e-16},{"w":2.04129,"top":1e-15,"mid":8.9e-16,"start":8.75e-16,"end":4.1e-16},{"w":2.04998,"top":1e-15,"mid":8.9e-16,"start":8.75e-16,"end":3.3e-16},{"w":2.05624,"top":1e-15,"mid":8.9e-16,"start":8.75e-16,"end":5.1e-16},{"w":2.07319,"top":1e-15,"mid":8.9e-16,"start":8.75e-16,"end":4.0e-16},{"w":2.09083,"top":1e-15,"mid":8.9e-16,"start":8.75e-16,"end":3.8e-16},{"w":2.11186,"top":1e-15,"mid":8.9e-16,"start":8.75e-16,"end":3.5e-16},{"w":2.11777,"top":1e-15,"mid":8.9e-16,"start":8.75e-16,"end":4.0e-16},{"w":2.1508,"top":1e-15,"mid":8.9e-16,"start":8.75e-16,"end":4.5e-16},{"w":2.15372,"top":1e-15,"mid":8.9e-16,"start":8.75e-16,"end":3.9e-16},{"w":2.18036,"top":1e-15,"mid":8.9e-16,"start":8.75e-16,"end":4.8e-16},{"w":2.18749,"top":1e-15,"mid":8.9e-16,"start":8.75e-16,"end":3.9e-16},{"w":2.19544,"top":1e-15,"mid":8.9e-16,"start":8.75e-16,"end":4.6e-16},{"w":2.20339,"top":1e-15,"mid":8.9e-16,"start":8.75e-16,"end":4.4e-16},{"w":2.21239,"top":1e-15,"mid":8.9e-16,"start":8.75e-16,"end":4.8e-16},{"w":2.22077,"top":1e-15,"mid":8.9e-16,"start":8.75e-16,"end":4.4e-16},{"w":2.23121,"top":1e-15,"mid":8.9e-16,"start":8.75e-16,"end":4.5e-16},{"w":2.289,"top":1e-15,"mid":8.9e-16,"start":8.75e-16,"end":4.8e-16},{"w":2.31699,"top":1e-15,"mid":8.9e-16,"start":8.75e-16,"end":4.9e-16},{"w":2.35767,"top":1e-15,"mid":8.9e-16,"start":8.75e-16,"end":5.6e-16},{"w":2.41839,"top":1e-15,"mid":8.9e-16,"start":8.75e-16,"end":7.1e-16},{"w":2.43534,"top":1e-15,"mid":8.9e-16,"start":null,"end":null}
  ],
  "bracket": [{"x1":1.97757,"x2":2.43534,"level":1e-15}],
  "label": [{"w":2.2828,"f":1.096e-15,"t":"Sky Line Residuals"}]
},
"resolve": {"scale": {"x": "shared", "y": "shared"}, "axis": {"x": "independent", "y": "independent"}},
"layer": [
  {
    "data": {"name": "spec"},
    "mark": {"type": "line", "color": "#333333", "strokeWidth": 1.15, "clip": true},
    "encoding": {
      "x": {"field": "w", "type": "quantitative", "scale": {"domain": [1.9505, 2.4497], "nice": false, "zero": false},
        "axis": {"orient": "bottom", "values": [2, 2.05, 2.1, 2.15, 2.2, 2.25, 2.3, 2.35, 2.4], "format": ".2~f", "tickSize": -8, "labelPadding": 16, "labelFontSize": 11, "title": "Wavelength (µm)", "titleFontSize": 15, "titlePadding": 4}},
      "y": {"field": "f", "type": "quantitative", "scale": {"domain": [-3e-17, 3e-15], "nice": false, "zero": false},
        "axis": {"orient": "left", "values": [0, 5e-16, 1e-15, 1.5e-15, 2e-15, 2.5e-15, 3e-15], "labelExpr": "datum.value == 0 ? '0' : (datum.value < 9e-16 ? format(datum.value*1e16, '~g') + 'E–16' : format(datum.value*1e15, '~g') + 'E–15')", "tickSize": -8, "labelPadding": 12.5, "labelFontSize": 11, "labelAngle": -90, "labelAlign": "center", "labelBaseline": "alphabetic", "title": "Flux (Wm⁻²µm⁻¹)", "titleFontSize": 15, "titlePadding": 5}}
    }
  },
  {
    "data": {"name": "bracket"},
    "mark": {"type": "rule", "color": "#000", "strokeWidth": 1},
    "encoding": {
      "x": {"field": "x1", "type": "quantitative", "scale": {"domain": [1.9505, 2.4497], "nice": false, "zero": false},
        "axis": {"orient": "bottom", "values": [1.96,1.97,1.98,1.99,2,2.01,2.02,2.03,2.04,2.05,2.06,2.07,2.08,2.09,2.1,2.11,2.12,2.13,2.14,2.15,2.16,2.17,2.18,2.19,2.2,2.21,2.22,2.23,2.24,2.25,2.26,2.27,2.28,2.29,2.3,2.31,2.32,2.33,2.34,2.35,2.36,2.37,2.38,2.39,2.4,2.41,2.42,2.43,2.44], "tickSize": -4, "labels": false, "domain": false, "title": null}},
      "x2": {"field": "x2"},
      "y": {"field": "level", "type": "quantitative", "scale": {"domain": [-3e-17, 3e-15], "nice": false, "zero": false},
        "axis": {"orient": "left", "values": [0,1e-16,2e-16,3e-16,4e-16,5e-16,6e-16,7e-16,8e-16,9e-16,1e-15,1.1e-15,1.2e-15,1.3e-15,1.4e-15,1.5e-15,1.6e-15,1.7e-15,1.8e-15,1.9e-15,2e-15,2.1e-15,2.2e-15,2.3e-15,2.4e-15,2.5e-15,2.6e-15,2.7e-15,2.8e-15,2.9e-15,3e-15], "tickSize": -4, "labels": false, "domain": false, "title": null}}
    }
  },
  {
    "data": {"name": "sky"},
    "mark": {"type": "rule", "color": "#000", "strokeWidth": 1},
    "encoding": {
      "x": {"field": "w", "type": "quantitative", "scale": {"domain": [1.9505, 2.4497], "nice": false, "zero": false},
        "axis": {"orient": "top", "values": [2, 2.05, 2.1, 2.15, 2.2, 2.25, 2.3, 2.35, 2.4], "tickSize": -8, "labels": false, "domain": true, "title": null}},
      "y": {"field": "top", "type": "quantitative", "scale": {"domain": [-3e-17, 3e-15], "nice": false, "zero": false},
        "axis": {"orient": "right", "values": [0, 5e-16, 1e-15, 1.5e-15, 2e-15, 2.5e-15, 3e-15], "tickSize": -8, "labels": false, "domain": true, "title": null}},
      "y2": {"field": "mid"}
    }
  },
  {
    "data": {"name": "sky"},
    "transform": [{"filter": "datum.end != null"}],
    "mark": {"type": "rule", "color": "#000", "strokeWidth": 1.2, "strokeDash": [1.2, 2.8]},
    "encoding": {
      "x": {"field": "w", "type": "quantitative", "scale": {"domain": [1.9505, 2.4497], "nice": false, "zero": false},
        "axis": {"orient": "top", "values": [1.96,1.97,1.98,1.99,2,2.01,2.02,2.03,2.04,2.05,2.06,2.07,2.08,2.09,2.1,2.11,2.12,2.13,2.14,2.15,2.16,2.17,2.18,2.19,2.2,2.21,2.22,2.23,2.24,2.25,2.26,2.27,2.28,2.29,2.3,2.31,2.32,2.33,2.34,2.35,2.36,2.37,2.38,2.39,2.4,2.41,2.42,2.43,2.44], "tickSize": -4, "labels": false, "domain": false, "title": null}},
      "y": {"field": "start", "type": "quantitative", "scale": {"domain": [-3e-17, 3e-15], "nice": false, "zero": false},
        "axis": {"orient": "right", "values": [0,1e-16,2e-16,3e-16,4e-16,5e-16,6e-16,7e-16,8e-16,9e-16,1e-15,1.1e-15,1.2e-15,1.3e-15,1.4e-15,1.5e-15,1.6e-15,1.7e-15,1.8e-15,1.9e-15,2e-15,2.1e-15,2.2e-15,2.3e-15,2.4e-15,2.5e-15,2.6e-15,2.7e-15,2.8e-15,2.9e-15,3e-15], "tickSize": -4, "labels": false, "domain": false, "title": null}},
      "y2": {"field": "end"}
    }
  },
  {
    "data": {"name": "label"},
    "mark": {"type": "text", "fontSize": 18, "font": "DejaVu Sans", "color": "#000", "align": "center", "baseline": "middle"},
    "encoding": {
      "x": {"field": "w", "type": "quantitative", "scale": {"domain": [1.9505, 2.4497], "nice": false, "zero": false}, "axis": null},
      "y": {"field": "f", "type": "quantitative", "scale": {"domain": [-3e-17, 3e-15], "nice": false, "zero": false}, "axis": null},
      "text": {"field": "t"}
    }
  }
]
}
